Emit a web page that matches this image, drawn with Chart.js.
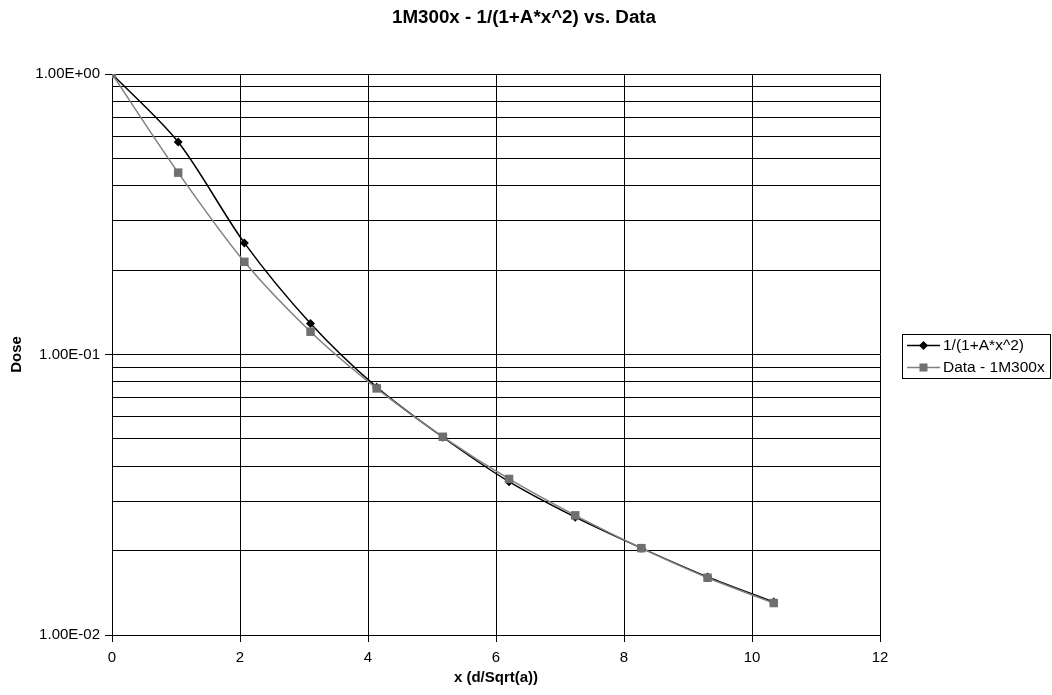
<!DOCTYPE html>
<html>
<head>
<meta charset="utf-8">
<script src="https://cdn.jsdelivr.net/npm/chart.js@4"></script>
<style>
  html, body { margin: 0; padding: 0; background: #fff; }
  #wrap { width: 1052px; height: 695px; }
</style>
</head>
<body>
<div id="wrap"><canvas id="dose-chart" width="1052" height="695"></canvas></div>
<script>
// x values (d/Sqrt(a))
const xValues = [0, 1.034, 2.068, 3.102, 4.136, 5.17, 6.204, 7.238, 8.272, 9.306, 10.34];
// fitted curve 1/(1+A*x^2)
const fitValues = [1, 0.572, 0.25, 0.129, 0.0765, 0.0507, 0.0352, 0.0263, 0.0204, 0.0161, 0.0131];
// measured data 1M300x
const dataValues = [1, 0.445, 0.214, 0.1206, 0.0757, 0.0509, 0.036, 0.0267, 0.0204, 0.016, 0.013];

const seriesNames = ["1/(1+A*x^2)", "Data - 1M300x"];
const chartTitle = "1M300x - 1/(1+A*x^2) vs. Data";
const FONT = "'Liberation Sans', Arial, sans-serif";

function toPoints(ys) {
  return xValues.map((x, i) => ({ x: x, y: ys[i] }));
}

// format 1, 0.1, 0.01 as 1.00E+00 etc
function sciLabel(v) {
  const exp = Math.round(Math.log10(v));
  const mant = v / Math.pow(10, exp);
  const sign = exp < 0 ? "-" : "+";
  return mant.toFixed(2) + "E" + sign + String(Math.abs(exp)).padStart(2, "0");
}

function isDecade(v) {
  const l = Math.log10(v);
  return Math.abs(l - Math.round(l)) < 1e-6;
}

// title centred on the whole page, not only the plot
const pageTitle = {
  id: "pageTitle",
  afterDraw(chart) {
    const ctx = chart.ctx;
    ctx.save();
    ctx.fillStyle = "#000";
    ctx.font = "bold 18.8px " + FONT;
    ctx.textAlign = "center";
    ctx.textBaseline = "middle";
    ctx.fillText(chartTitle, 524, 18);
    ctx.restore();
  },
};

// legend drawn by hand, boxed like the Excel one
const boxLegend = {
  id: "boxLegend",
  afterDraw(chart) {
    const ctx = chart.ctx;
    const left = 902, top = 334, right = 1050, rowH = 22;
    ctx.save();
    ctx.strokeStyle = "#000";
    ctx.lineWidth = 1;
    ctx.strokeRect(left + 0.5, top + 0.5, right - left, rowH * 2);
    chart.data.datasets.forEach((ds, i) => {
      const y = top + rowH / 2 + i * rowH + 0.5;
      ctx.strokeStyle = ds.borderColor;
      ctx.lineWidth = ds.borderWidth;
      ctx.beginPath();
      ctx.moveTo(left + 5, y);
      ctx.lineTo(left + 38, y);
      ctx.stroke();
      ctx.fillStyle = ds.pointBackgroundColor;
      const cx = left + 21.5;
      if (ds.pointStyle === "rectRot") {
        ctx.beginPath();
        ctx.moveTo(cx - 4.5, y);
        ctx.lineTo(cx, y - 4.5);
        ctx.lineTo(cx + 4.5, y);
        ctx.lineTo(cx, y + 4.5);
        ctx.closePath();
        ctx.fill();
      } else {
        ctx.fillRect(cx - 4, y - 4, 8, 8);
      }
      ctx.fillStyle = "#000";
      ctx.font = "15.5px " + FONT;
      ctx.textBaseline = "middle";
      ctx.fillText(seriesNames[i], left + 41, y);
    });
    ctx.restore();
  },
};

const ctx = document.getElementById("dose-chart").getContext("2d");

new Chart(ctx, {
  type: "line",
  data: {
    datasets: [
      {
        label: seriesNames[0],
        data: toPoints(fitValues),
        borderColor: "#000000",
        borderWidth: 1.5,
        pointStyle: "rectRot",
        pointRadius: 4.5,
        pointBackgroundColor: "#000000",
        pointBorderWidth: 0,
        tension: 0.3,
        order: 1,
      },
      {
        label: seriesNames[1],
        data: toPoints(dataValues),
        borderColor: "#808080",
        borderWidth: 1.5,
        pointStyle: "rect",
        pointRadius: 6,
        pointBackgroundColor: "#6f6f6f",
        pointBorderWidth: 0,
        tension: 0.3,
        order: 0,
      },
    ],
  },
  options: {
    responsive: false,
    animation: false,
    layout: { padding: { left: 0, right: 172, top: 74, bottom: 0 } },
    plugins: {
      legend: { display: false },
      tooltip: { enabled: false },
      title: { display: false },
    },
    scales: {
      x: {
        type: "linear",
        min: 0,
        max: 12,
        ticks: {
          stepSize: 2,
          color: "#000",
          padding: 7,
          maxRotation: 0,
          font: { family: FONT, size: 15 },
        },
        grid: { color: "#000", lineWidth: 1, tickLength: 7, tickColor: "#000" },
        border: { color: "#000", width: 1 },
        title: {
          display: true,
          text: "x (d/Sqrt(a))",
          color: "#000",
          font: { family: FONT, size: 15, weight: "bold" },
          padding: { top: 0, bottom: 8 },
        },
        afterFit(scale) {
          scale.height = 60;
        },
      },
      y: {
        type: "logarithmic",
        min: 0.01,
        max: 1,
        afterBuildTicks(scale) {
          // keep only 1..9 x 10^n gridlines
          scale.ticks = scale.ticks.filter((t) => {
            const m = t.value / Math.pow(10, Math.floor(Math.log10(t.value) + 1e-9));
            return Math.abs(m - Math.round(m)) < 1e-6;
          });
        },
        ticks: {
          autoSkip: false,
          color: "#000",
          padding: 5,
          font: { family: FONT, size: 15 },
          callback: (v) => (isDecade(v) ? sciLabel(v) : ""),
        },
        grid: {
          color: "#000",
          lineWidth: 1,
          tickLength: 7,
          tickColor: (c) => (c.tick && isDecade(c.tick.value) ? "#000" : "rgba(0,0,0,0)"),
        },
        border: { color: "#000", width: 1 },
        title: {
          display: true,
          text: "Dose",
          color: "#000",
          font: { family: FONT, size: 15, weight: "bold" },
          padding: { top: 8, bottom: 0 },
        },
        afterFit(scale) {
          scale.width = 112;
        },
      },
    },
  },
  plugins: [pageTitle, boxLegend],
});
</script>
</body>
</html>
